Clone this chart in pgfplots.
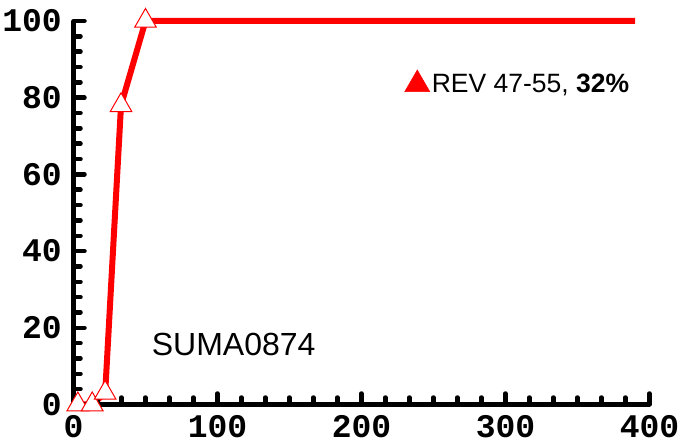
\documentclass[border=0pt]{standalone}
\usepackage{pgfplots}
\pgfplotsset{compat=1.18}
\usepackage{fontspec}
\setmainfont{Liberation Sans}
\setmonofont{Liberation Mono}
\begin{document}
\begin{tikzpicture}
\useasboundingbox (-73.5bp,-39.5bp) rectangle (618.5bp,404.5bp);
\begin{axis}[
  scale only axis,
  width=576bp, height=383.5bp,
  xmin=0, xmax=400, ymin=0, ymax=100,
  axis x line*=bottom, axis y line*=left,
  axis line style={-, line width=5bp, black},
  axis on top=true,
  clip=false,
  xtick distance=100, ytick distance=20,
  minor x tick num=5, minor y tick num=4,
  tick align=inside,
  major tick length=11bp, minor tick length=7bp,
  every tick/.style={black, line width=4.5bp, line cap=round},
  /pgf/number format/assume math mode=true,
  tick label style={font=\fontsize{33bp}{33bp}\selectfont\ttfamily\bfseries, inner sep=0pt},
  xticklabel style={yshift=-11bp},
  yticklabel style={xshift=-11.5bp},
  legend style={draw=none, fill=none, inner sep=0pt, at={(0.5747,0.838)}, anchor=west,
    font=\fontsize{26.5bp}{26.5bp}\selectfont, legend cell align=left},
  legend image code/.code={\draw[red, fill=red] plot[mark=triangle*, mark size=14.5bp] coordinates {(0.15cm,0cm)};},
]
\addplot[red, line width=6bp, mark=triangle*, 
  mark options={solid, fill=white, draw=red, line width=1bp, mark size=12.5bp},
  mark indices={1,2,3,4,5}, forget plot]
  coordinates {(3,0) (13,0) (22,3) (33,78) (50,100) (390,100)};
\addlegendimage{red}
\addlegendentry{REV 47-55, \textbf{32\%}}
\node[anchor=base west, inner sep=0pt, font=\fontsize{32bp}{32bp}\selectfont] at (axis cs:54.3,12.9) {SUMA0874};
\end{axis}
\end{tikzpicture}
\end{document}
